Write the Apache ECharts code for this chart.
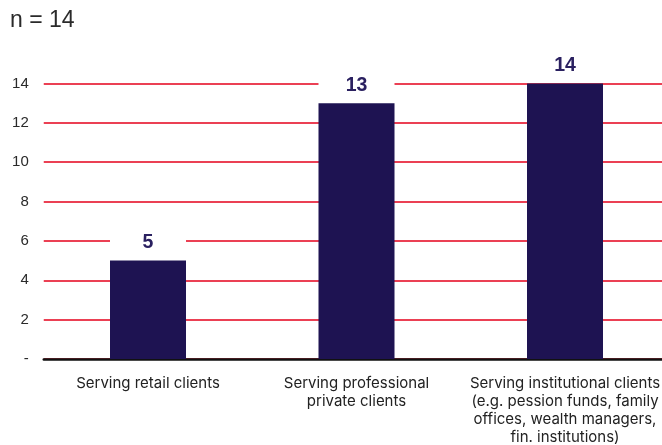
<!DOCTYPE html>
<html>
<head>
<meta charset="utf-8">
<script src="https://cdn.jsdelivr.net/npm/echarts@6/dist/echarts.min.js"></script>
<style>
  html, body { margin: 0; padding: 0; background: #fff; }
  #chart { width: 662px; height: 445px; }
</style>
</head>
<body>
<div id="chart"></div>
<script>
// Client segments and the number of respondents serving each
const categories = [
  'Serving retail clients',
  'Serving professional\nprivate clients',
  'Serving institutional clients\n(e.g. pession funds, family\noffices, wealth managers,\nfin. institutions)'
];
const values = [5, 13, 14];
const sampleLabel = 'n = 14';

const FONT = 'Liberation Sans, Arial, sans-serif';

const chart = echarts.init(document.getElementById('chart'));
chart.setOption({
  animation: false,
  title: {
    text: sampleLabel,
    left: 5,
    top: 4,
    textStyle: { fontFamily: FONT, fontSize: 23, fontWeight: 'normal', color: '#2a2a2a' }
  },
  // the plot runs slightly past the right edge, so the last category sits further right
  grid: { left: 43.75, right: -7.25, top: 83.5, bottom: 86, outerBoundsMode: 'none', containLabel: false },
  xAxis: {
    type: 'category',
    data: categories,
    axisLine: { show: true, lineStyle: { color: '#111', width: 2.5 } },
    axisTick: { show: false },
    axisLabel: {
      interval: 0,
      margin: 15,
      fontFamily: 'Inter, ' + FONT,
      fontSize: 15,
      lineHeight: 18,
      color: '#222',
      align: 'center'
    }
  },
  yAxis: {
    type: 'value',
    min: 0,
    max: 14,
    interval: 2,
    axisLine: { show: false },
    axisTick: { show: false },
    splitLine: { lineStyle: { color: '#e4001b', width: 1.5 } },
    axisLabel: {
      margin: 15,
      fontFamily: FONT,
      fontSize: 15,
      color: '#2a2a2a',
      formatter: v => (v === 0 ? '-' : String(v))
    }
  },
  series: [{
    type: 'bar',
    data: values,
    barWidth: 76,
    itemStyle: { color: '#1e1352' },
    label: {
      show: true,
      position: 'top',
      distance: 2,
      width: 76,
      align: 'center',
      backgroundColor: '#fff',
      padding: [6, 0, 6, 0],
      fontFamily: FONT,
      fontSize: 19.5,
      fontWeight: 'bold',
      color: '#2a2060'
    }
  }]
});
</script>
</body>
</html>
